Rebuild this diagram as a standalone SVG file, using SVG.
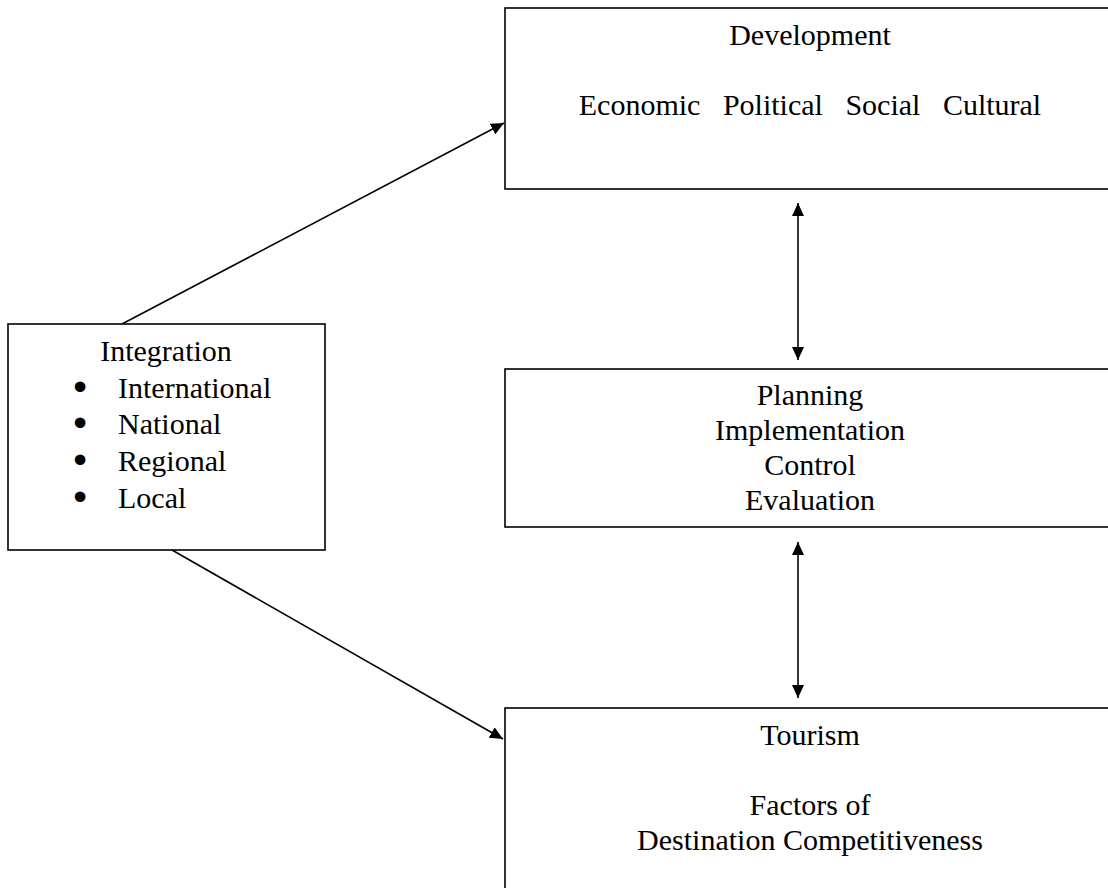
<svg xmlns="http://www.w3.org/2000/svg" width="1108" height="888" viewBox="0 0 1108 888">
<style>
.box{fill:#fff;stroke:#000;stroke-width:1.6}
.t{font-family:"Liberation Serif","Times New Roman",serif;font-size:30px;fill:#000}
.c{text-anchor:middle}
.b{font-family:"Liberation Serif","Times New Roman",serif;font-size:32px;fill:#000;stroke:#000;stroke-width:3;text-anchor:middle}
.ln{stroke:#000;stroke-width:1.6;fill:none}
</style>
<defs>
<marker id="ah" viewBox="0 0 13 12" refX="13" refY="6" markerWidth="13" markerHeight="12" markerUnits="userSpaceOnUse" orient="auto-start-reverse">
<path d="M0,0 L13,6 L0,12 Z" fill="#000"/>
</marker>
</defs>
<rect width="1108" height="888" fill="#fff"/>
<g id="connectors">
<line class="ln" x1="122" y1="324" x2="504" y2="123" marker-end="url(#ah)"/>
<line class="ln" x1="172" y1="550" x2="503" y2="739" marker-end="url(#ah)"/>
<line class="ln" x1="798" y1="203" x2="798" y2="360" marker-start="url(#ah)" marker-end="url(#ah)"/>
<line class="ln" x1="798" y1="542" x2="798" y2="698" marker-start="url(#ah)" marker-end="url(#ah)"/>
</g>
<g id="development">
<rect class="box" x="505" y="8" width="620" height="181"/>
<text class="t c" x="810" y="45">Development</text>
<text class="t c" x="810" y="115" xml:space="preserve">Economic   Political   Social   Cultural</text>
</g>
<g id="planning">
<rect class="box" x="505" y="369" width="620" height="158"/>
<text class="t c" x="810" y="405">Planning</text>
<text class="t c" x="810" y="440">Implementation</text>
<text class="t c" x="810" y="475">Control</text>
<text class="t c" x="810" y="510">Evaluation</text>
</g>
<g id="tourism">
<rect class="box" x="505" y="708" width="620" height="200"/>
<text class="t c" x="810" y="745">Tourism</text>
<text class="t c" x="810" y="815">Factors of</text>
<text class="t c" x="810" y="850">Destination Competitiveness</text>
</g>
<g id="integration">
<rect class="box" x="8" y="324" width="317" height="226"/>
<text class="t c" x="166" y="361">Integration</text>
<text class="b" x="80" y="398">•</text>
<text class="t" x="118" y="398">International</text>
<text class="b" x="80" y="434">•</text>
<text class="t" x="118" y="434">National</text>
<text class="b" x="80" y="471">•</text>
<text class="t" x="118" y="471">Regional</text>
<text class="b" x="80" y="508">•</text>
<text class="t" x="118" y="508">Local</text>
</g>
</svg>
